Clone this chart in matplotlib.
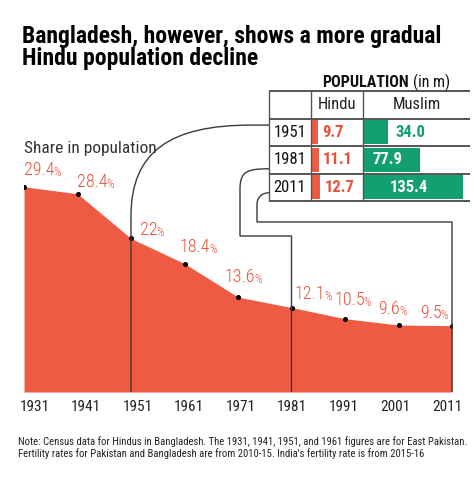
import matplotlib.pyplot as plt
from matplotlib.path import Path
from matplotlib.patches import PathPatch
from matplotlib import font_manager as fm

# === DATA ===
years = [1931, 1941, 1951, 1961, 1971, 1981, 1991, 2001, 2011]
hindu_share = [29.4, 28.4, 22, 18.4, 13.6, 12.1, 10.5, 9.6, 9.5]
share_labels = ["29.4", "28.4", "22", "18.4", "13.6", "12.1", "10.5", "9.6", "9.5"]

table_years = [1951, 1981, 2011]
hindu_pop = [9.7, 11.1, 12.7]
muslim_pop = [34.0, 77.9, 135.4]

title_lines = ["Bangladesh, however, shows a more gradual", "Hindu population decline"]
note_lines = [
    "Note: Census data for Hindus in Bangladesh. The 1931, 1941, 1951, and 1961 figures are for East Pakistan.",
    "Fertility rates for Pakistan and Bangladesh are from 2010-15. India's fertility rate is from 2015-16",
]

# === STYLE ===
RED = "#ef5b42"
RED_TXT = "#e8513a"
GREEN = "#12a070"
DARK = "#3a3a3a"

available = {f.name for f in fm.fontManager.ttflist}


def pick(cands):
    for c in cands:
        if c in available:
            return c
    return "DejaVu Sans"


NARROW = pick(["Roboto Condensed", "Liberation Sans Narrow", "Archivo Narrow",
               "PT Sans Narrow", "Fira Sans Condensed", "IBM Plex Sans Condensed",
               "Barlow Semi Condensed", "Open Sans Condensed", "Asap Condensed"])
SANS = pick(["Roboto Condensed", "Liberation Sans", "DejaVu Sans"])

W, H = 474, 478


def fx(px):
    return px / W


def fy(py):
    return 1 - py / H


fig = plt.figure(figsize=(W / 100, H / 100), dpi=100)
fig.patch.set_facecolor("white")

# === main area chart ===
ax = fig.add_axes([fx(24), fy(392), 428 / W, 312 / H])
ax.set_xlim(1931, 2011)
ax.set_ylim(0, 312 / 6.98)
ax.fill_between(years, hindu_share, 0, color=RED, lw=0, zorder=1)
ax.plot(years, hindu_share, "o", ms=2.6, color="black", zorder=5)
for s in ax.spines.values():
    s.set_visible(False)
ax.set_yticks([])
tick_pos = [1933 + (y - 1931) * 0.963 for y in years]
ax.set_xticks(tick_pos)
ax.set_xticklabels([str(y) for y in years], family=NARROW, fontsize=11, color="#222")
ax.tick_params(axis="x", length=0, pad=6)

# percent labels (offsets in pixels from the point)
label_off = [(0, 12), (-1, 7), (9, 3), (-5, 12), (-13, 15), (3, 9), (-11, 14), (-20, 11), (-32, 8)]
for yr, v, lab, off in zip(years, hindu_share, share_labels, label_off):
    t = ax.annotate(lab, (yr, v), xytext=off, textcoords="offset pixels",
                    ha="left", va="baseline", fontsize=13, color=RED_TXT,
                    family=SANS, fontweight="light", annotation_clip=False)
    ax.annotate("%", xy=(1, 0), xycoords=t, xytext=(-1, 0), textcoords="offset pixels",
                ha="left", va="bottom", fontsize=8.5, color=RED_TXT, family=SANS,
                fontweight="light")

ax.text(1931, (392 - 141) / 6.98, "Share in population", fontsize=12.5,
        family=NARROW, color="#333", va="top")

# === table ===
tax = fig.add_axes([fx(269), fy(201), 203 / W, 110 / H])
scale = 0.74  # px per million
x_end = 203 / scale
c1 = (311 - 269) / scale
c2 = (362.5 - 269) / scale
tax.set_xlim(0, x_end)
tax.set_ylim(4, 0)
tax.axis("off")

rows = [1.5, 2.5, 3.5]
tax.barh(rows, hindu_pop, left=c1, height=0.88, color=RED, lw=0)
tax.barh(rows, muslim_pop, left=c2, height=0.88, color=GREEN, lw=0)

tax.hlines([0, 1, 2, 3, 4], 0, x_end - 3, color="#555", lw=1.4, clip_on=False)
tax.vlines([0, c1, c2], 0, 4, color="#555", lw=1.0, clip_on=False)

tax.text((c1 + c2) / 2, 0.5, "Hindu", ha="center", va="center", fontsize=12,
         family=NARROW, color="#222")
tax.text((c2 + x_end) / 2, 0.5, "Muslim", ha="center", va="center", fontsize=12,
         family=NARROW, color="#222")

for r, yr, h, m in zip(rows, table_years, hindu_pop, muslim_pop):
    tax.text(c1 / 2, r, str(yr), ha="center", va="center", fontsize=12,
             family=NARROW, color="#111")
    tax.annotate(f"{h:.1f}", (c1 + h, r), xytext=(4, 0), textcoords="offset pixels",
                 ha="left", va="center", fontsize=12, fontweight="bold",
                 family=NARROW, color=RED_TXT)
    if m * scale < 40:
        tax.annotate(f"{m:.1f}", (c2 + m, r), xytext=(8, 0), textcoords="offset pixels",
                     ha="left", va="center", fontsize=12, fontweight="bold",
                     family=NARROW, color=GREEN)
    else:
        tax.annotate(f"{m:.1f}", (c2 + m / 2, r), xytext=(-4, 0), textcoords="offset pixels",
                     ha="center", va="center", fontsize=12, fontweight="bold",
                     family=NARROW, color="white")

fig.text(fx(322), fy(87), "POPULATION", fontsize=11.5, fontweight="bold",
         family=NARROW, color="#111", va="baseline")
fig.text(fx(413), fy(87), "(in m)", fontsize=11.5, family=NARROW, color="#111",
         va="baseline")

# === connectors (pixel overlay) ===
ov = fig.add_axes([0, 0, 1, 1], zorder=3)
ov.set_xlim(0, W)
ov.set_ylim(H, 0)
ov.axis("off")


def to_px(axes, pt):
    x, y = axes.transData.transform(pt)
    return x, H - y


left_px, _ = to_px(tax, (0, 0))
entry_frac = [0.24, 0.83, 0.7]
M, L, C = Path.MOVETO, Path.LINETO, Path.CURVE4
for i, yr in enumerate(table_years):
    bx, by = to_px(ax, (yr, 0))
    _, ey = to_px(tax, (0, 1 + i + entry_frac[i]))
    if i == 0:
        verts = [(bx, by), (bx, ey + 91), (bx, ey + 26), (bx + 40, ey), (bx + 120, ey), (left_px, ey)]
        codes = [M, L, C, C, C, L]
    else:
        turn = [None, 236, 222][i]
        xl = [None, 240, 257][i]
        rise = [None, 20, 12][i]
        verts = [(bx, by), (bx, turn), (xl, turn), (xl, ey + rise),
                 (xl, ey + 2), (xl + 8, ey), (left_px, ey)]
        codes = [M, L, L, L, C, C, C]
    ov.add_patch(PathPatch(Path(verts, codes), fill=False, ec=DARK, lw=1.0))

# === titles and note ===
fig.text(fx(22), fy(43), title_lines[0], fontsize=17, fontweight="heavy",
         family=NARROW, color="black", va="baseline")
fig.text(fx(22), fy(65), title_lines[1], fontsize=17, fontweight="heavy",
         family=NARROW, color="black", va="baseline")
fig.text(fx(18), fy(445), note_lines[0], fontsize=7.7, family=NARROW, color="#222",
         va="baseline")
fig.text(fx(18), fy(457), note_lines[1], fontsize=7.7, family=NARROW, color="#222",
         va="baseline")

fig.savefig("out.png", dpi=100)
